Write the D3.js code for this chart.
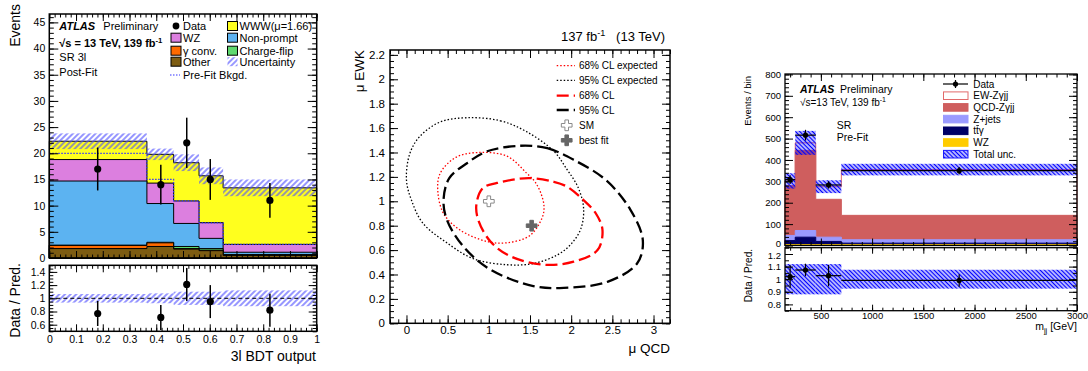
<!DOCTYPE html>
<html>
<head>
<meta charset="utf-8">
<title>Fit results</title>
<script src="https://cdn.jsdelivr.net/npm/d3@7/dist/d3.min.js"></script>
<style>
  body { margin: 0; background: #fff; }
  svg text { font-family: "Liberation Sans", Arial, Helvetica, sans-serif; fill: #000; }
</style>
</head>
<body>
<svg id="chart" width="1088" height="371"></svg>
<script>
// ---- left panel: SR 3l, 3l BDT output (post-fit) ----
const bdtEdges      = [0, 0.365, 0.465, 0.56, 0.65, 1];
const bdtOther      = [1.8, 2.2, 1.7, 1.4, 0.5];
const bdtGammaConv  = [0.6, 0.7, 0.1, 0.1, 0.05];
const bdtChargeFlip = [0.05, 0.1, 0.4, 0.3, 0.1];
const bdtNonPrompt  = [12.25, 7.4, 4.4, 1.95, 0.45];
const bdtWZ         = [4.1, 3.9, 4.3, 3.0, 1.5];
const bdtWWW        = [3.5, 5.5, 7.3, 8.95, 10.8];
const bdtUnc        = [1.5, 1.1, 1.6, 1.6, 1.6];
const bdtPreFit     = [20.0, 15.0, 10.9, 6.7, 2.6];
const bdtDataX      = [0.181, 0.417, 0.514, 0.602, 0.825];
const bdtData       = [17, 14, 22, 15, 11];
const bdtDataErr    = [4.1, 3.8, 4.8, 3.9, 3.3];
const bdtRatio      = [0.77, 0.71, 1.21, 0.95, 0.82];
const bdtRatioErr   = [0.19, 0.19, 0.25, 0.25, 0.25];
const bdtRatioUnc   = [0.065, 0.075, 0.1, 0.1, 0.12];
const bdtXTicks     = [0, 0.1, 0.2, 0.3, 0.4, 0.5, 0.6, 0.7, 0.8, 0.9, 1];
const bdtYTicks     = [0, 5, 10, 15, 20, 25, 30, 35, 40, 45];
const bdtRatioTicks = [0.6, 0.8, 1, 1.2, 1.4];

// ---- middle panel: mu QCD vs mu EWK contours ----
const exp95 = [[0.75,1.685],[1.14,1.66],[1.46,1.57],[1.79,1.41],[1.95,1.26],[2.08,1.12],[2.15,0.95],[2.12,0.78],[2.0,0.65],[1.83,0.56],[1.54,0.49],[1.22,0.48],[0.81,0.53],[0.49,0.66],[0.2,0.82],[0.06,1.01],[0.0,1.175],[0.04,1.39],[0.16,1.53],[0.41,1.65]];
const exp68 = [[0.87,1.40],[1.22,1.37],[1.46,1.23],[1.56,1.16],[1.63,1.07],[1.67,0.96],[1.65,0.87],[1.5,0.72],[1.22,0.66],[0.98,0.67],[0.65,0.765],[0.45,0.9],[0.38,1.09],[0.41,1.23],[0.6,1.36]];
const obs68 = [[1.48,1.19],[1.79,1.16],[1.95,1.12],[2.15,1.01],[2.3,0.9],[2.38,0.765],[2.32,0.6],[2.03,0.505],[1.67,0.48],[1.26,0.55],[1.02,0.67],[0.87,0.85],[0.85,0.98],[0.93,1.11],[1.1,1.15]];
const obs95 = [[1.38,1.455],[1.71,1.435],[2.03,1.34],[2.42,1.175],[2.72,0.93],[2.87,0.68],[2.8,0.49],[2.44,0.34],[1.91,0.29],[1.54,0.305],[1.02,0.44],[0.69,0.63],[0.49,0.85],[0.45,1.01],[0.52,1.19],[0.73,1.31],[0.98,1.41]];
const smPoint = [1.0, 1.0];
const bestFit = [1.52, 0.8];
const muQcdTicks = [0, 0.5, 1, 1.5, 2, 2.5, 3];
const muEwkTicks = [0, 0.2, 0.4, 0.6, 0.8, 1, 1.2, 1.4, 1.6, 1.8, 2, 2.2];

// ---- right panel: SR pre-fit, m_jj ----
const mjjEdges    = [150, 250, 450, 700, 3000];
const mjjWZ       = [4, 4, 4, 4];
const mjjTtg      = [19, 35, 15, 7];
const mjjZjets    = [24, 31, 20, 16];
const mjjQCD      = [233, 375, 177, 114];
const mjjEW       = [22, 35, 59, 214];
const mjjUnc      = [36, 56, 30, 27];
const mjjDataX    = [200, 350, 575, 1850];
const mjjData     = [308, 516, 283, 350];
const mjjDataErr  = [20, 25, 17, 17];
const mjjRatio    = [1.02, 1.073, 1.028, 0.99];
const mjjRatioErr = [0.09, 0.05, 0.085, 0.05];
const mjjRatioUnc = [0.12, 0.12, 0.12, 0.075];
const mjjXTicks   = [500, 1000, 1500, 2000, 2500, 3000];
const mjjYTicks   = [0, 100, 200, 300, 400, 500, 600, 700, 800];
const mjjRatioTicks = [0.8, 0.9, 1, 1.1, 1.2];

const FONT = '"Liberation Sans", Arial, Helvetica, sans-serif';
const svg = d3.select('#chart');
svg.append('rect').attr('width', 1088).attr('height', 371).attr('fill', '#fff');
const defs = svg.append('defs');

function hatch(id, spacing, color, width, angle) {
  const p = defs.append('pattern').attr('id', id)
    .attr('patternUnits', 'userSpaceOnUse')
    .attr('width', spacing).attr('height', spacing)
    .attr('patternTransform', `rotate(${angle})`);
  p.append('line')
    .attr('x1', spacing / 2).attr('y1', 0).attr('x2', spacing / 2).attr('y2', spacing)
    .attr('stroke', color).attr('stroke-width', width);
}
hatch('hatchL', 4, '#5050ff', 1.2, 45);
hatch('hatchR', 3, '#0000ff', 1.6, -45);

function minors(scale, step) {
  const [a, b] = scale.domain();
  return d3.range(Math.ceil(a / step - 1e-9), Math.floor(b / step + 1e-9) + 1).map(i => i * step);
}

// ROOT style: ticks pointing inwards on all four sides
function tickRow(g, scale, side, pos, values, len) {
  const mk = { left: d3.axisLeft, right: d3.axisRight, top: d3.axisTop, bottom: d3.axisBottom }[side];
  const a = g.append('g')
    .attr('transform', side === 'left' || side === 'right' ? `translate(${pos},0)` : `translate(0,${pos})`)
    .call(mk(scale).tickValues(values).tickSize(-len).tickFormat(''));
  a.select('.domain').remove();
  a.selectAll('text').remove();
  a.selectAll('line').attr('stroke', '#000');
}

function tickLabels(g, scale, side, pos, values, size, pad) {
  const mk = side === 'left' ? d3.axisLeft : d3.axisBottom;
  const a = g.append('g')
    .attr('transform', side === 'left' ? `translate(${pos},0)` : `translate(0,${pos})`)
    .call(mk(scale).tickValues(values).tickSize(0).tickPadding(pad).tickFormat(d => String(d)));
  a.attr('font-family', FONT).attr('font-size', size);
  a.select('.domain').remove();
  a.selectAll('text').attr('fill', '#000');
  return a;
}

function frame(g, x, y, o) {
  const [x0, x1] = x.range(), [y0, y1] = y.range();
  const xm = minors(x, o.xStep), ym = minors(y, o.yStep);
  tickRow(g, x, 'bottom', y0, o.xMajor, o.xLen);
  tickRow(g, x, 'bottom', y0, xm, o.xLen / 2);
  tickRow(g, x, 'top', y1, o.xMajor, o.xLen);
  tickRow(g, x, 'top', y1, xm, o.xLen / 2);
  tickRow(g, y, 'left', x0, o.yMajor, o.yLen);
  tickRow(g, y, 'left', x0, ym, o.yLen / 2);
  tickRow(g, y, 'right', x1, o.yMajor, o.yLen);
  tickRow(g, y, 'right', x1, ym, o.yLen / 2);
  g.append('rect')
    .attr('x', x0).attr('y', y1).attr('width', x1 - x0).attr('height', y0 - y1)
    .attr('fill', 'none').attr('stroke', '#000').attr('stroke-width', o.frameW || 1.5);
  const out = {};
  if (o.xLabels) out.x = tickLabels(g, x, 'bottom', y0, o.xMajor, o.fontSize, o.xPad || 5);
  if (o.yLabels) out.y = tickLabels(g, y, 'left', x0, o.yMajor, o.fontSize, o.yPad || 4);
  return out;
}

// parts: plain strings, or {t, dy} for super/subscripts
function addText(g, x, y, parts, o = {}) {
  const size = o.size || 11;
  const t = g.append('text').attr('x', x).attr('y', y)
    .attr('font-size', size)
    .attr('text-anchor', o.anchor || 'start');
  if (o.bold) t.attr('font-weight', 'bold');
  if (o.italic) t.attr('font-style', 'italic');
  if (o.rotate) t.attr('transform', `rotate(-90,${x},${y})`);
  if (o.fill) t.attr('fill', o.fill);
  let shift = 0;
  parts.forEach(p => {
    if (typeof p === 'string') {
      const s = t.append('tspan').attr('font-size', size).text(p);
      if (shift) { s.attr('dy', -shift); shift = 0; }
    } else {
      t.append('tspan').attr('font-size', size * 0.7).attr('dy', p.dy).text(p.t);
      shift = p.dy;
    }
  });
  return t;
}

function stepPoints(edges, vals) {
  return edges.map((e, i) => ({ x: e, v: vals[Math.min(i, vals.length - 1)] }));
}

// =================== LEFT PANEL ===================
const gL = svg.append('g');
const xL = d3.scaleLinear([0, 1], [49.3, 316.7]);
const yL = d3.scaleLinear([0, 46.6], [258, 14]);
const yLR = d3.scaleLinear([0.5, 1.5], [331.3, 265.3]);

const bdtKeys = ['other', 'gconv', 'cflip', 'nonprompt', 'wz', 'www'];
const bdtColors = { other: '#7d5c12', gconv: '#ff6a00', cflip: '#5fd96f', nonprompt: '#5cb3f1', wz: '#dc7fdf', www: '#ffff1e' };
const bdtRows = bdtOther.map((_, i) => ({
  other: bdtOther[i], gconv: bdtGammaConv[i], cflip: bdtChargeFlip[i],
  nonprompt: bdtNonPrompt[i], wz: bdtWZ[i], www: bdtWWW[i]
}));
const bdtStack = d3.stack().keys(bdtKeys)(bdtRows);

const areaL = d3.area().curve(d3.curveStepAfter)
  .x(d => xL(d.x)).y0(yL(0)).y1(d => yL(d.v));
bdtStack.slice().reverse().forEach(layer => {
  gL.append('path')
    .attr('d', areaL(stepPoints(bdtEdges, layer.map(d => d[1]))))
    .attr('fill', bdtColors[layer.key]).attr('stroke', '#000').attr('stroke-width', 1);
});

// uncertainty band
const bdtTotal = bdtStack[bdtStack.length - 1].map(d => d[1]);
gL.selectAll('.uncL').data(bdtTotal).enter().append('rect')
  .attr('x', (d, i) => xL(bdtEdges[i]))
  .attr('width', (d, i) => xL(bdtEdges[i + 1]) - xL(bdtEdges[i]))
  .attr('y', (d, i) => yL(d + bdtUnc[i]))
  .attr('height', (d, i) => yL(d - bdtUnc[i]) - yL(d + bdtUnc[i]))
  .attr('fill', 'url(#hatchL)');

// pre-fit background
gL.append('path')
  .attr('d', d3.line().curve(d3.curveStepAfter).x(d => xL(d.x)).y(d => yL(d.v))(stepPoints(bdtEdges, bdtPreFit)))
  .attr('fill', 'none').attr('stroke', '#3535ff').attr('stroke-width', 1.2).attr('stroke-dasharray', '1.5 1.5');

frame(gL, xL, yL, { xMajor: bdtXTicks, xStep: 0.02, xLen: 7, yMajor: bdtYTicks, yStep: 1, yLen: 9,
  yLabels: true, fontSize: 10.5 });

// data
gL.selectAll('.errL').data(bdtData).enter().append('line')
  .attr('x1', (d, i) => xL(bdtDataX[i])).attr('x2', (d, i) => xL(bdtDataX[i]))
  .attr('y1', (d, i) => yL(d + bdtDataErr[i])).attr('y2', (d, i) => yL(d - bdtDataErr[i]))
  .attr('stroke', '#000').attr('stroke-width', 1.5);
gL.selectAll('.dotL').data(bdtData).enter().append('circle')
  .attr('cx', (d, i) => xL(bdtDataX[i])).attr('cy', d => yL(d)).attr('r', 3.6).attr('fill', '#000');

// ratio
bdtRatioUnc.forEach((u, i) => {
  gL.append('rect')
    .attr('x', xL(bdtEdges[i])).attr('width', xL(bdtEdges[i + 1]) - xL(bdtEdges[i]))
    .attr('y', yLR(1 + u)).attr('height', yLR(1 - u) - yLR(1 + u))
    .attr('fill', 'url(#hatchL)');
});
gL.append('line').attr('x1', xL(0)).attr('x2', xL(1)).attr('y1', yLR(1)).attr('y2', yLR(1))
  .attr('stroke', '#000').attr('stroke-width', 1).attr('stroke-dasharray', '4 3');
frame(gL, xL, yLR, { xMajor: bdtXTicks, xStep: 0.02, xLen: 7, yMajor: bdtRatioTicks, yStep: 0.05, yLen: 8,
  xLabels: true, yLabels: true, fontSize: 10.5, xPad: 4 });
gL.selectAll('.errLR').data(bdtRatio).enter().append('line')
  .attr('x1', (d, i) => xL(bdtDataX[i])).attr('x2', (d, i) => xL(bdtDataX[i]))
  .attr('y1', (d, i) => yLR(d + bdtRatioErr[i])).attr('y2', (d, i) => yLR(d - bdtRatioErr[i]))
  .attr('stroke', '#000').attr('stroke-width', 1.5);
gL.selectAll('.dotLR').data(bdtRatio).enter().append('circle')
  .attr('cx', (d, i) => xL(bdtDataX[i])).attr('cy', d => yLR(d)).attr('r', 3.6).attr('fill', '#000');

// titles
addText(gL, 20, 4, ['Events'], { size: 14, rotate: true, anchor: 'end' });
addText(gL, 20, 263, ['Data / Pred.'], { size: 14, rotate: true, anchor: 'end' });
addText(gL, 316, 361, ['3l BDT output'], { size: 14, anchor: 'end' });

// ATLAS label & legend
addText(gL, 59.3, 30, ['ATLAS'], { size: 11, bold: true, italic: true });
addText(gL, 103.3, 30, ['Preliminary'], { size: 11 });
addText(gL, 59.3, 46.5, ['\u221as = 13 TeV, 139 fb', { t: '-1', dy: -4 }], { size: 11, bold: true });
addText(gL, 59.3, 61, ['SR 3l'], { size: 11 });
addText(gL, 59.3, 75.5, ['Post-Fit'], { size: 11 });

const legL = [
  { x: 176, y: 26, kind: 'dot', label: 'Data' },
  { x: 176, y: 37.7, kind: 'box', fill: bdtColors.wz, label: 'WZ' },
  { x: 176, y: 50.7, kind: 'box', fill: bdtColors.gconv, label: '\u03b3 conv.' },
  { x: 176, y: 61.7, kind: 'box', fill: bdtColors.other, label: 'Other' },
  { x: 176, y: 75, kind: 'dotted', label: 'Pre-Fit Bkgd.' },
  { x: 232.5, y: 26, kind: 'box', fill: bdtColors.www, label: 'WWW(\u03bc=1.66)' },
  { x: 232.5, y: 37.7, kind: 'box', fill: bdtColors.nonprompt, label: 'Non-prompt' },
  { x: 232.5, y: 50.7, kind: 'box', fill: bdtColors.cflip, label: 'Charge-flip' },
  { x: 232.5, y: 61.7, kind: 'hatch', label: 'Uncertainty' }
];
legL.forEach(e => {
  if (e.kind === 'dot') gL.append('circle').attr('cx', e.x).attr('cy', e.y).attr('r', 3.4).attr('fill', '#000');
  if (e.kind === 'box') gL.append('rect').attr('x', e.x - 5).attr('y', e.y - 4.5).attr('width', 10).attr('height', 9)
    .attr('fill', e.fill).attr('stroke', '#000').attr('stroke-width', 1);
  if (e.kind === 'hatch') gL.append('rect').attr('x', e.x - 5).attr('y', e.y - 4.5).attr('width', 10).attr('height', 9)
    .attr('fill', 'url(#hatchL)');
  if (e.kind === 'dotted') gL.append('line').attr('x1', e.x - 6).attr('x2', e.x + 4).attr('y1', e.y).attr('y2', e.y)
    .attr('stroke', '#3535ff').attr('stroke-width', 1.2).attr('stroke-dasharray', '1.5 1.5');
  addText(gL, e.x + 7, e.y + 4, [e.label], { size: 11 });
});

// =================== MIDDLE PANEL ===================
const gM = svg.append('g');
const xM = d3.scaleLinear([-0.2, 3.2], [390, 670]);
const yM = d3.scaleLinear([0, 2.24], [323.3, 50]);

const contour = d3.line().x(d => xM(d[0])).y(d => yM(d[1])).curve(d3.curveCatmullRomClosed.alpha(0.5));
const contourStyles = [
  { pts: exp95, color: '#000', w: 1.3, dash: '1.5 2', label: '95% CL expected' },
  { pts: exp68, color: '#ff0000', w: 1.3, dash: '1.5 2', label: '68% CL expected' },
  { pts: obs68, color: '#ff0000', w: 2.3, dash: '12 5', label: '68% CL' },
  { pts: obs95, color: '#000', w: 2.3, dash: '12 5', label: '95% CL' }
];
contourStyles.forEach(c => {
  gM.append('path').attr('d', contour(c.pts))
    .attr('fill', 'none').attr('stroke', c.color).attr('stroke-width', c.w).attr('stroke-dasharray', c.dash);
});
gM.append('path').attr('d', d3.symbol(d3.symbolCross, 64)())
  .attr('transform', `translate(${xM(smPoint[0])},${yM(smPoint[1])})`)
  .attr('fill', '#fff').attr('stroke', '#8a8a8a').attr('stroke-width', 1);
gM.append('path').attr('d', d3.symbol(d3.symbolCross, 64)())
  .attr('transform', `translate(${xM(bestFit[0])},${yM(bestFit[1])})`)
  .attr('fill', '#666').attr('stroke', '#666').attr('stroke-width', 1);

frame(gM, xM, yM, { xMajor: muQcdTicks, xStep: 0.1, xLen: 8, yMajor: muEwkTicks, yStep: 0.05, yLen: 8,
  xLabels: true, yLabels: true, fontSize: 11.5, xPad: 3, yPad: 5 });

addText(gM, 364, 50, ['\u03bc EWK'], { size: 13.5, rotate: true, anchor: 'end' });
addText(gM, 670, 353, ['\u03bc QCD'], { size: 13.5, anchor: 'end' });
addText(gM, 665, 40.5, ['137 fb', { t: '-1', dy: -5 }, '\u00a0\u00a0\u00a0(13 TeV)'], { size: 13, anchor: 'end' });

const legM = [
  { y: 65.7, c: contourStyles[1] },
  { y: 80.3, c: contourStyles[0] },
  { y: 95.7, c: contourStyles[2] },
  { y: 110, c: contourStyles[3] }
];
legM.forEach(e => {
  gM.append('line').attr('x1', 556.7).attr('x2', 575).attr('y1', e.y).attr('y2', e.y)
    .attr('stroke', e.c.color).attr('stroke-width', e.c.w).attr('stroke-dasharray', e.c.dash);
  addText(gM, 579, e.y + 3.6, [e.c.label], { size: 10 });
});
gM.append('path').attr('d', d3.symbol(d3.symbolCross, 64)())
  .attr('transform', 'translate(566.7,125.3)').attr('fill', '#fff').attr('stroke', '#8a8a8a');
addText(gM, 579, 128.9, ['SM'], { size: 10 });
gM.append('path').attr('d', d3.symbol(d3.symbolCross, 64)())
  .attr('transform', 'translate(566.7,140.3)').attr('fill', '#666').attr('stroke', '#666');
addText(gM, 579, 143.9, ['best fit'], { size: 10 });

// =================== RIGHT PANEL ===================
const gR = svg.append('g');
const xR = d3.scaleLinear([150, 3000], [785, 1077]);
const yR = d3.scaleLinear([0, 802], [245.5, 74]);
const yRR = d3.scaleLinear([0.75, 1.25], [310.7, 247.7]);

const mjjKeys = ['wz', 'ttg', 'zjets', 'qcd', 'ew'];
const mjjFill = { wz: '#ffcc00', ttg: '#000066', zjets: '#9a9aff', qcd: '#cf5e5e', ew: '#ffffff' };
const mjjLine = { wz: '#ffcc00', ttg: '#000066', zjets: '#9a9aff', qcd: '#cf5e5e', ew: '#e26a6a' };
const mjjRows = mjjWZ.map((_, i) => ({ wz: mjjWZ[i], ttg: mjjTtg[i], zjets: mjjZjets[i], qcd: mjjQCD[i], ew: mjjEW[i] }));
const mjjStack = d3.stack().keys(mjjKeys)(mjjRows);
const areaR = d3.area().curve(d3.curveStepAfter).x(d => xR(d.x)).y0(yR(0)).y1(d => yR(d.v));
mjjStack.slice().reverse().forEach(layer => {
  gR.append('path')
    .attr('d', areaR(stepPoints(mjjEdges, layer.map(d => d[1]))))
    .attr('fill', mjjFill[layer.key]).attr('stroke', mjjLine[layer.key]).attr('stroke-width', 1);
});
const mjjTotal = mjjStack[mjjStack.length - 1].map(d => d[1]);
gR.selectAll('.uncR').data(mjjTotal).enter().append('rect')
  .attr('x', (d, i) => xR(mjjEdges[i]))
  .attr('width', (d, i) => xR(mjjEdges[i + 1]) - xR(mjjEdges[i]))
  .attr('y', (d, i) => yR(d + mjjUnc[i]))
  .attr('height', (d, i) => yR(d - mjjUnc[i]) - yR(d + mjjUnc[i]))
  .attr('fill', 'url(#hatchR)');

const mainR = frame(gR, xR, yR, { xMajor: mjjXTicks, xStep: 100, xLen: 7, yMajor: mjjYTicks, yStep: 20, yLen: 8,
  yLabels: true, fontSize: 9.5, frameW: 1.3 });
// lift the "0" label a touch so it clears the ratio pad's "1.2"
mainR.y.selectAll('text').filter(d => d === 0).attr('dy', '0.1em');

function dataMarks(g, yScale, vals, errs, r) {
  vals.forEach((v, i) => {
    g.append('line').attr('x1', xR(mjjEdges[i])).attr('x2', xR(mjjEdges[i + 1]))
      .attr('y1', yScale(v)).attr('y2', yScale(v)).attr('stroke', '#000').attr('stroke-width', 1.2);
    g.append('line').attr('x1', xR(mjjDataX[i])).attr('x2', xR(mjjDataX[i]))
      .attr('y1', yScale(v + errs[i])).attr('y2', yScale(v - errs[i])).attr('stroke', '#000').attr('stroke-width', 1.2);
    g.append('circle').attr('cx', xR(mjjDataX[i])).attr('cy', yScale(v)).attr('r', r).attr('fill', '#000');
  });
}
dataMarks(gR, yR, mjjData, mjjDataErr, 2.6);

// ratio
mjjRatioUnc.forEach((u, i) => {
  gR.append('rect')
    .attr('x', xR(mjjEdges[i])).attr('width', xR(mjjEdges[i + 1]) - xR(mjjEdges[i]))
    .attr('y', yRR(1 + u)).attr('height', yRR(1 - u) - yRR(1 + u))
    .attr('fill', 'url(#hatchR)');
});
const ratioR = frame(gR, xR, yRR, { xMajor: mjjXTicks, xStep: 100, xLen: 6, yMajor: mjjRatioTicks, yStep: 0.05, yLen: 8,
  xLabels: true, yLabels: true, fontSize: 9.5, frameW: 1.3, xPad: 2 });
ratioR.y.selectAll('text').filter(d => d === 1.2).attr('dy', '0.5em');
dataMarks(gR, yRR, mjjRatio, mjjRatioErr, 2.6);

addText(gR, 751, 76, ['Events / bin'], { size: 9.5, rotate: true, anchor: 'end', fill: '#222' });
addText(gR, 752, 249, ['Data / Pred.'], { size: 10, rotate: true, anchor: 'end', fill: '#222' });
addText(gR, 1077, 329.5, ['m', { t: 'jj', dy: 3 }, ' [GeV]'], { size: 10.5, anchor: 'end', fill: '#222' });

addText(gR, 800, 92.7, ['ATLAS'], { size: 10.5, bold: true, italic: true });
addText(gR, 840, 92.7, ['Preliminary'], { size: 10.5 });
addText(gR, 800, 106, ['\u221as=13 TeV, 139 fb', { t: '-1', dy: -4 }], { size: 10 });
addText(gR, 836.7, 129.3, ['SR'], { size: 10.5 });
addText(gR, 836.7, 141, ['Pre-Fit'], { size: 10.5 });

const legR = [
  { y: 84, kind: 'data', label: 'Data' },
  { y: 95.7, kind: 'box', fill: '#fff', stroke: '#e26a6a', label: 'EW-Z\u03b3jj' },
  { y: 107.4, kind: 'box', fill: mjjFill.qcd, stroke: mjjFill.qcd, label: 'QCD-Z\u03b3jj' },
  { y: 119.1, kind: 'box', fill: mjjFill.zjets, stroke: mjjFill.zjets, label: 'Z+jets' },
  { y: 130.8, kind: 'box', fill: mjjFill.ttg, stroke: mjjFill.ttg, label: 'tt\u03b3', bar: true },
  { y: 142.5, kind: 'box', fill: mjjFill.wz, stroke: mjjFill.wz, label: 'WZ' },
  { y: 154.2, kind: 'box', fill: 'url(#hatchR)', stroke: '#1a1aff', label: 'Total unc.' }
];
legR.forEach(e => {
  if (e.kind === 'data') {
    gR.append('line').attr('x1', 943).attr('x2', 968).attr('y1', e.y).attr('y2', e.y).attr('stroke', '#000').attr('stroke-width', 1.2);
    gR.append('line').attr('x1', 955.5).attr('x2', 955.5).attr('y1', e.y - 4).attr('y2', e.y + 4).attr('stroke', '#000').attr('stroke-width', 1.2);
    gR.append('circle').attr('cx', 955.5).attr('cy', e.y).attr('r', 2.6).attr('fill', '#000');
  } else {
    gR.append('rect').attr('x', 943.5).attr('y', e.y - 3.8).attr('width', 24.5).attr('height', 7.6)
      .attr('fill', e.fill).attr('stroke', e.stroke).attr('stroke-width', 1);
  }
  addText(gR, 973.3, e.y + 3.6, [e.label], { size: 10 });
  // anti-top bar over the second t
  if (e.bar) gR.append('line').attr('x1', 976.3).attr('x2', 978.9)
    .attr('y1', e.y - 5.3).attr('y2', e.y - 5.3).attr('stroke', '#000').attr('stroke-width', 0.8);
});
</script>
</body>
</html>
